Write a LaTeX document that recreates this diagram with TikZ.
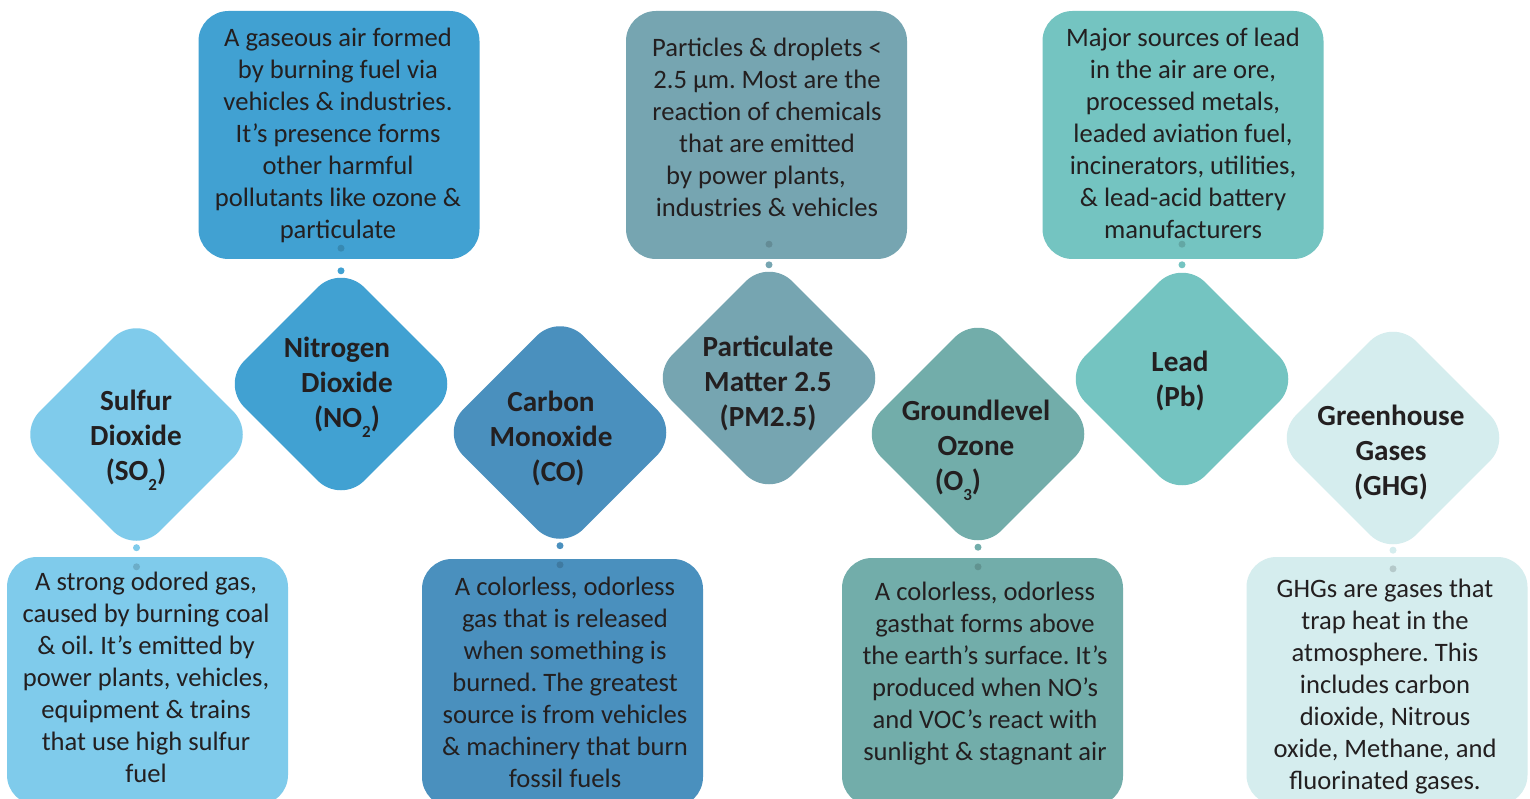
\documentclass[tikz,border=0pt]{standalone}
\usepackage{fontspec}
\setmainfont{Carlito}
\usetikzlibrary{shapes.geometric,calc}
\definecolor{cSO}{HTML}{7FCBEB}
\definecolor{cNO}{HTML}{41A1D2}
\definecolor{cCO}{HTML}{4A90BE}
\definecolor{cPM}{HTML}{76A5B1}
\definecolor{cOZ}{HTML}{72ADAA}
\definecolor{cPB}{HTML}{74C4C1}
\definecolor{cGH}{HTML}{D5EDEE}
\definecolor{ink}{HTML}{231F20}
\frenchspacing
\tikzset{
  gem/.style={diamond, fill=#1, minimum width=240pt, minimum height=240pt, inner sep=0pt, rounded corners=33pt},
  card/.style={rectangle, fill=#1, minimum width=281pt, minimum height=248pt, inner sep=0pt, rounded corners=30pt},
  desc/.style={anchor=base, inner sep=0pt, text=ink, font=\fontsize{26.6}{32}\selectfont},
  title/.style={anchor=base, inner sep=0pt, text=ink, font=\fontsize{29.2}{35}\selectfont\bfseries},
  odot/.style={circle, fill=#1, inner sep=0pt, minimum size=7pt},
  idot/.style={circle, fill=#1!85!black, inner sep=0pt, minimum size=7pt},
}
\newcommand{\sbs}[1]{\raisebox{-10pt}{\fontsize{17}{17}\selectfont #1}}
\begin{document}
\begin{tikzpicture}[x=1pt,y=-1pt]
\useasboundingbox (0,0) rectangle (1530,799);
\clip (0,0) rectangle (1530,799);
\fill[white] (0,0) rectangle (1530,799);

% description cards
\node[card=cNO] (b2) at (339,135) {};
\node[card=cPM] (b4) at (766.5,135) {};
\node[card=cPB] (b6) at (1183,135) {};
\node[card=cSO] (b1) at (147.5,681) {};
\node[card=cCO] (b3) at (562.5,683) {};
\node[card=cOZ] (b5) at (982.5,682) {};
\node[card=cGH] (b7) at (1387,681) {};

% diamonds
\node[gem=cSO] (d1) at (136.5,434.5) {};
\node[gem=cNO] (d2) at (341,384) {};
\node[gem=cCO] (d3) at (560,432.5) {};
\node[gem=cPM] (d4) at (769,378) {};
\node[gem=cOZ] (d5) at (978,434) {};
\node[gem=cPB] (d6) at (1182,379) {};
\node[gem=cGH] (d7) at (1393,438) {};

% connectors (dots)
\path ($(b2.south -| d2.north)+(0,-11)$) node[idot=cNO] (k2a) {} -- ($(d2.north)+(0,7)$) node[odot=cNO] (k2b) {};
\path ($(b4.south -| d4.north)+(0,-15)$) node[idot=cPM] (k4a) {} -- ($(d4.north)+(0,7)$) node[odot=cPM] (k4b) {};
\path ($(b6.south -| d6.north)+(0,-15)$) node[idot=cPB] (k6a) {} -- ($(d6.north)+(0,6)$) node[odot=cPB] (k6b) {};
\path ($(d1.south)+(0,-7)$) node[odot=cSO] (k1a) {} -- ($(b1.north -| d1.south)+(0,10)$) node[idot=cSO] (k1b) {};
\path ($(d3.south)+(0,-7)$) node[odot=cCO] (k3a) {} -- ($(b3.north -| d3.south)+(0,6)$) node[idot=cCO] (k3b) {};
\path ($(d5.south)+(0,-7)$) node[odot=cOZ] (k5a) {} -- ($(b5.north -| d5.south)+(0,9)$) node[idot=cOZ] (k5b) {};
\path ($(d7.south)+(0,-8)$) node[odot=cGH] (k7a) {} -- ($(b7.north -| d7.south)+(0,12)$) node[idot=cGH] (k7b) {};

% titles
\node[title] (h1) at (136,410) {\begin{tabular}[t]{@{}c@{}}Sulfur\\Dioxide\\(SO\sbs{2})\end{tabular}};
\node[title] (h2) at (347,357) {\begin{tabular}[t]{@{}c@{}}Nitrogen\hspace*{20pt}\\Dioxide\\(NO\sbs{2})\end{tabular}};
\node[title] (h3) at (551,411) {\begin{tabular}[t]{@{}c@{}}Carbon\\Monoxide\\\hspace*{14pt}(CO)\end{tabular}};
\node[title] (h4) at (768,356) {\begin{tabular}[t]{@{}c@{}}Particulate\\Matter 2.5\\(PM2.5)\end{tabular}};
\node[title] (h5) at (976,420) {\begin{tabular}[t]{@{}c@{}}Groundlevel\\Ozone\\(O\sbs{3})\hspace*{36pt}\end{tabular}};
\node[title] (h6) at (1180,371) {\begin{tabular}[t]{@{}c@{}}Lead\\(Pb)\end{tabular}};
\node[title] (h7) at (1391,425) {\begin{tabular}[t]{@{}c@{}}Greenhouse\\Gases\\(GHG)\end{tabular}};

% description texts
\node[desc] (t2) at (338,47) {\begin{tabular}[t]{@{}c@{}}A gaseous air formed\\by burning fuel via\\vehicles \& industries.\\It’s presence forms\\other harmful\\pollutants like ozone \&\\particulate\end{tabular}};
\node[desc] (t4) at (767,57) {\begin{tabular}[t]{@{}c@{}}Particles \& droplets <\\2.5 µm. Most are the\\reaction of chemicals\\that are emitted\\by power plants,\hspace*{22pt}\\industries \& vehicles\end{tabular}};
\node[desc] (t6) at (1183,47) {\begin{tabular}[t]{@{}c@{}}Major sources of lead\\in the air are ore,\\processed metals,\\leaded aviation fuel,\\incinerators, utilities,\\\& lead-acid battery\\manufacturers\end{tabular}};
\node[desc] (t1) at (146,590) {\begin{tabular}[t]{@{}c@{}}A strong odored gas,\\caused by burning coal\\\& oil. It’s emitted by\\power plants, vehicles,\\equipment \& trains\\that use high sulfur\\fuel\end{tabular}};
\node[desc] (t3) at (565,595) {\begin{tabular}[t]{@{}c@{}}A colorless, odorless\\gas that is released\\when something is\\burned. The greatest\\source is from vehicles\\\& machinery that burn\\fossil fuels\end{tabular}};
\node[desc] (t5) at (985,600) {\begin{tabular}[t]{@{}c@{}}A colorless, odorless\\gasthat forms above\\the earth’s surface. It’s\\produced when NO’s\\and VOC’s react with\\sunlight \& stagnant air\end{tabular}};
\node[desc] (t7) at (1385,597) {\begin{tabular}[t]{@{}c@{}}GHGs are gases that\\trap heat in the\\atmosphere. This\\includes carbon\\dioxide, Nitrous\\oxide, Methane, and\\fluorinated gases.\end{tabular}};
\end{tikzpicture}
\end{document}
